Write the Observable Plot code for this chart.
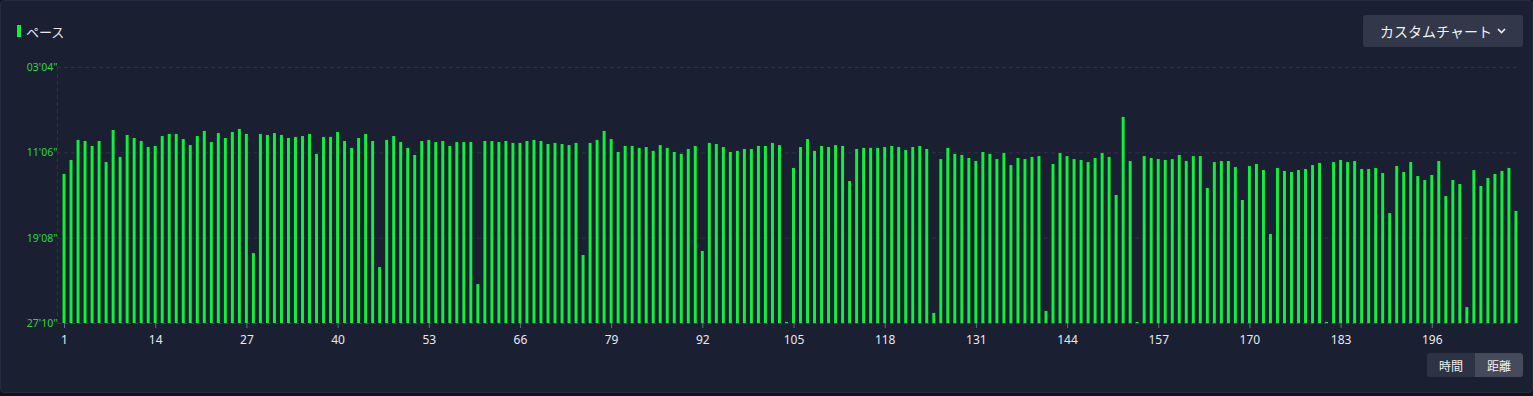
<!DOCTYPE html>
<html>
<head>
<meta charset="utf-8">
<script src="https://cdn.jsdelivr.net/npm/d3@7"></script>
<script src="https://cdn.jsdelivr.net/npm/@observablehq/plot@0.6"></script>
<style>
html,body{margin:0;padding:0;background:#10131f;}
body{width:1533px;height:396px;overflow:hidden;position:relative;font-family:"Noto Sans CJK JP","Noto Sans",sans-serif;}
#card{position:absolute;left:0;top:0;width:1531px;height:391px;background:#1b1f32;border:1px solid #252a3e;border-radius:4px;}
#title{position:absolute;left:17px;top:22px;height:18px;display:flex;align-items:center;color:#e4e6ec;font-size:13px;}
#title .mark{width:4px;height:12px;background:#0cf23a;margin-right:5px;}
#menu{position:absolute;left:1363px;top:15px;width:160px;height:32px;background:#323749;border-radius:3px;color:#f0f1f4;font-size:14px;display:flex;align-items:center;justify-content:center;}
#menu svg{margin-left:5px;}
#toggle{position:absolute;left:1427px;top:353px;height:24px;display:flex;border-radius:3px;overflow:hidden;font-size:12px;color:#f2f2f2;}
#toggle div{width:48px;display:flex;align-items:center;justify-content:center;}
#toggle .off{background:#2e3344;}
#toggle .on{background:#464b5b;}
#chart{position:absolute;left:0;top:50px;}
</style>
</head>
<body>
<div id="card"></div>
<div id="title"><div class="mark"></div><span>ペース</span></div>
<div id="menu"><span>カスタムチャート</span><svg width="9" height="6" viewBox="0 0 9 6"><path d="M1 1 L4.5 4.5 L8 1" fill="none" stroke="#f0f1f4" stroke-width="1.6"/></svg></div>
<div id="toggle"><div class="off">時間</div><div class="on">距離</div></div>
<div id="chart"></div>
<script>
// pace per lap, seconds per km (faster = taller bar)
const pace = [
  788, 709, 596, 602, 630, 602, 721, 540, 692, 568,
  585, 602, 636, 630, 574, 562, 562, 591, 625, 574,
  545, 608, 557, 585, 551, 534, 562, 1235, 562, 568,
  557, 568, 585, 579, 574, 562, 675, 579, 579, 551,
  602, 641, 585, 562, 602, 1314, 596, 574, 608, 641,
  681, 602, 596, 608, 602, 630, 608, 608, 608, 1410,
  602, 602, 608, 602, 613, 613, 602, 596, 602, 619,
  613, 619, 625, 613, 1246, 613, 596, 545, 591, 664,
  630, 630, 641, 636, 658, 625, 641, 664, 675, 647,
  630, 1223, 613, 619, 636, 664, 658, 647, 647, 630,
  630, 613, 625, 1624, 754, 636, 591, 658, 630, 636,
  625, 630, 828, 647, 641, 641, 641, 636, 630, 636,
  653, 636, 630, 647, 1573, 704, 641, 675, 681, 698,
  715, 664, 675, 704, 670, 738, 698, 704, 692, 687,
  1562, 732, 670, 687, 704, 709, 721, 698, 670, 692,
  907, 466, 715, 1624, 687, 698, 704, 709, 704, 681,
  715, 687, 687, 867, 721, 715, 715, 749, 935, 743,
  732, 766, 1127, 754, 771, 777, 766, 760, 738, 726,
  1624, 721, 709, 721, 715, 760, 760, 754, 783, 1009,
  743, 777, 721, 800, 822, 794, 715, 913, 822, 845,
  1540, 766, 856, 811, 788, 771, 754, 997
];
const laps = pace.map((_, i) => i + 1);
const xTicks = [1, 14, 27, 40, 53, 66, 79, 92, 105, 118, 131, 144, 157, 170, 183, 196];
const yTicks = [184, 666, 1148, 1630];
const yTickLabels = ["03'04\"", "11'06\"", "19'08\"", "27'10\""];

const data = laps.map((lap, i) => ({lap, pace: pace[i]}));
const yBottom = yTicks[yTicks.length - 1];
const green = "#0cf23a";
const fmtY = v => yTickLabels[yTicks.indexOf(v)];

const chart = Plot.plot({
  width: 1533,
  height: 300,
  marginLeft: 57,
  marginRight: 16,
  marginTop: 17,
  marginBottom: 27,
  style: {background: "transparent", fontFamily: "'Noto Sans', sans-serif", overflow: "visible"},
  x: {domain: [0, 208.15], axis: null},
  y: {domain: [yBottom, yTicks[0]], axis: null},
  marks: [
    Plot.ruleY(yTicks.slice(0, 3), {x1: 0, x2: 208.15, stroke: "#2d3248", strokeDasharray: "4,3"}),
    Plot.ruleY([yBottom], {x1: 0, x2: 208.15, stroke: "#363b50", strokeDasharray: "4,3"}),
    Plot.ruleX([0], {y1: yTicks[0], y2: yBottom, stroke: "#2d3248", strokeDasharray: "4,3"}),
    Plot.rect(data, {
      x1: d => d.lap - 0.21,
      x2: d => d.lap + 0.21,
      y1: () => yBottom,
      y2: "pace",
      fill: green
    }),
    Plot.axisX(xTicks, {tickSize: 5, tickFormat: () => "", stroke: "#6a6f82", label: null}),
    Plot.axisX(xTicks, {tickSize: 0, tickPadding: 12, fill: "#e8e9ee", fontSize: 12, label: null}),
    Plot.axisY(yTicks, {tickSize: 0, tickPadding: 0, tickFormat: fmtY, fill: "#22dc3e", fontSize: 10.5, label: null})
  ]
});
document.getElementById("chart").appendChild(chart);
</script>
</body>
</html>
